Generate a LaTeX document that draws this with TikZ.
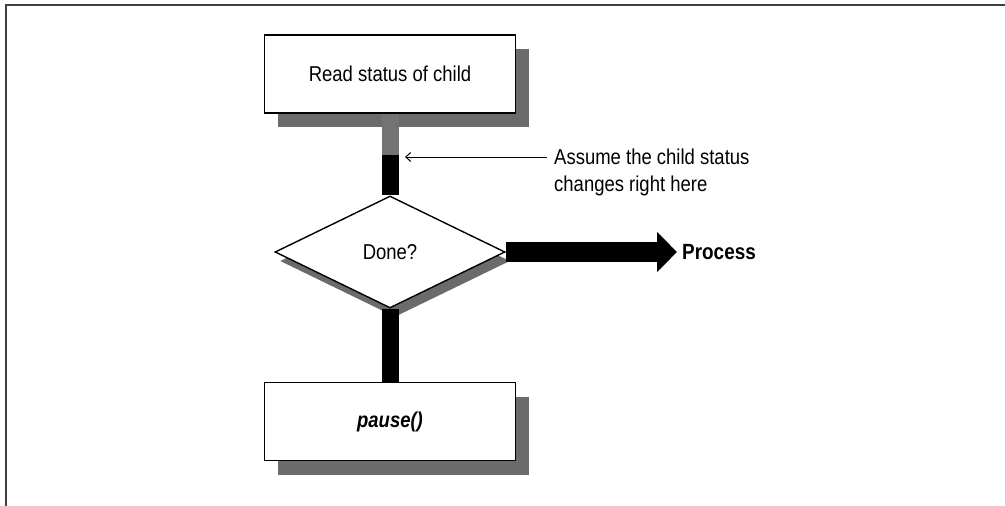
\documentclass[tikz,border=0pt]{standalone}
\usepackage{fontspec}
\setmainfont{Liberation Sans}[FakeStretch=0.86]
\usetikzlibrary{shapes.geometric,arrows.meta,shadows}

\tikzset{
  boxshade/.style={drop shadow={shadow xshift=13pt, shadow yshift=-14pt, opacity=1, fill=black!58}},
  diashade/.style={drop shadow={shadow xshift=5pt, shadow yshift=-9pt, opacity=1, fill=black!58}},
  txt/.style={font=\fontsize{21.5}{27}\selectfont},
  stepbox/.style={draw, line width=1.6pt, fill=white, minimum width=251pt, minimum height=78pt,
    inner sep=0pt, txt, boxshade},
  decision/.style={diamond, draw, line width=1.4pt, fill=white, minimum width=230pt,
    minimum height=112pt, inner sep=0pt, aspect=2, txt, diashade},
  flow/.style={line width=17pt},
  note/.style={align=left, inner sep=0pt, txt},
  frame/.style={line width=2.5pt, black!75}
}

\begin{document}
\begin{tikzpicture}[x=1pt, y=-1pt]
  \useasboundingbox (0,0) rectangle (1005,506);

  % border lines along the top and left
  \coordinate (fa) at (6,506);
  \coordinate (fb) at (6,5);
  \coordinate (fc) at (1005,5);
  \draw[frame] (fa) -- (fb) -- (fc);

  % flowchart nodes
  \node[stepbox] (read) at (390,74) {Read status of child};
  \node[decision] (done) at (390,252) {Done?};
  \node[stepbox, font=\fontsize{21.5}{27}\selectfont\bfseries\itshape] (pause) at (390,421.5) {pause()};

  % connector between reading and testing, with the moment the status changes
  \coordinate (chg) at (390,155);
  \draw[flow, black!55] (read.south) -- (read.south |- chg);
  \draw[flow] (read.south |- chg) -- (done.north);
  \draw[flow] (done.south) -- (pause.north);

  % exit to processing
  \node[anchor=west, inner sep=0pt, font=\fontsize{22}{27}\selectfont\bfseries] (proc) at (682,252) {Process};
  \coordinate (tip) at (677,252);
  \draw[line width=20pt, -{Triangle[length=20pt, width=39pt]}] (done.east) -- (tip);

  % annotation
  \node[note, anchor=north west] (note) at (554,149) {Assume the child status\\changes right here};
  \coordinate (tail) at (547,157);
  \coordinate (head) at (405,157);
  \draw[line width=1pt, -{Straight Barb[length=5pt, width=9pt]}] (tail) -- (head);
\end{tikzpicture}
\end{document}
